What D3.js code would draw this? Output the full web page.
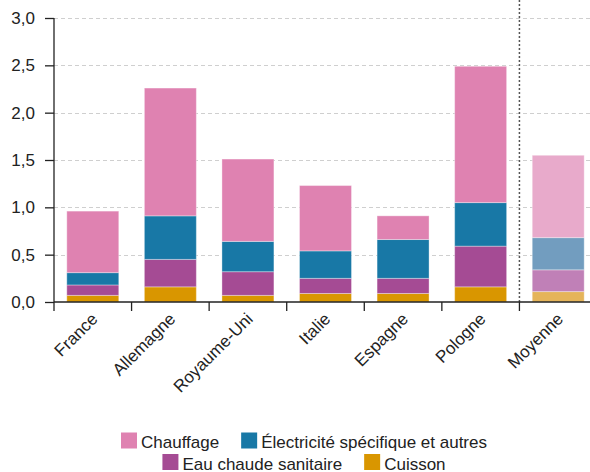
<!DOCTYPE html>
<html>
<head>
<meta charset="utf-8">
<script src="https://cdn.jsdelivr.net/npm/d3@7"></script>
<style>
  body { margin: 0; background: #fff; }
  svg { display: block; font-family: "Liberation Sans", Arial, sans-serif; }
</style>
</head>
<body>
<div id="chart"></div>
<script>
// data
const categories = ["France", "Allemagne", "Royaume-Uni", "Italie", "Espagne", "Pologne", "Moyenne"];
const cuisson    = [0.07, 0.16, 0.07, 0.09, 0.09, 0.16, 0.11];
const eauChaude  = [0.11, 0.29, 0.25, 0.16, 0.16, 0.43, 0.23];
const electricite = [0.13, 0.46, 0.32, 0.29, 0.41, 0.46, 0.34];
const chauffage  = [0.65, 1.35, 0.87, 0.69, 0.25, 1.44, 0.87];
const yTicks = [0, 0.5, 1, 1.5, 2, 2.5, 3];

const seriesKeys = ["cuisson", "eau", "elec", "chauffage"];
const colors = {cuisson: "#d99600", eau: "#a54b94", elec: "#1878a6", chauffage: "#df82b1"};
const lightColors = {cuisson: "#e5b45a", eau: "#c080b7", elec: "#729dbf", chauffage: "#e8aacb"};

const rows = categories.map((c, i) => ({
    name: c,
    cuisson: cuisson[i],
    eau: eauChaude[i],
    elec: electricite[i],
    chauffage: chauffage[i]
}));

const width = 590;
const height = 472;
const marginLeft = 54, plotBottom = 302, plotTop = 18;

const svg = d3.select("#chart")
    .append("svg")
    .attr("width", width)
    .attr("height", height);

const x = d3.scaleBand()
    .domain(categories)
    .range([marginLeft, 597])
    .paddingInner(0.33)
    .paddingOuter(0.165);

const y = d3.scaleLinear()
    .domain([0, 3])
    .range([plotBottom, plotTop]);

const fmt = d => d3.format(".1f")(d).replace(".", ",");

// gridlines
svg.append("g")
    .selectAll("line")
    .data(yTicks.filter(d => d > 0))
    .join("line")
    .attr("x1", marginLeft).attr("x2", width)
    .attr("y1", d => Math.round(y(d)) + 0.5)
    .attr("y2", d => Math.round(y(d)) + 0.5)
    .attr("stroke", "#cfcfcf")
    .attr("stroke-dasharray", "4,3");

// stacked bars
const stack = d3.stack().keys(seriesKeys);
const layers = stack(rows);

svg.append("g")
    .selectAll("g")
    .data(layers)
    .join("g")
    .each(function(layer) {
        d3.select(this).selectAll("rect")
            .data(layer)
            .join("rect")
            .attr("x", d => x(d.data.name))
            .attr("width", x.bandwidth())
            .attr("y", d => y(d[1]))
            .attr("height", d => y(d[0]) - y(d[1]))
            .attr("fill", d => d.data.name === "Moyenne" ? lightColors[layer.key] : colors[layer.key])
            .attr("stroke", "#fff")
            .attr("stroke-opacity", 0.35)
            .attr("stroke-width", 1);
    });

// divider before the average
const step = x.step();
const divX = x("Moyenne") - step * x.paddingInner() / 2;
svg.append("line")
    .attr("x1", divX).attr("x2", divX)
    .attr("y1", 0).attr("y2", plotBottom)
    .attr("stroke", "#555")
    .attr("stroke-width", 1.5)
    .attr("stroke-dasharray", "2,2");

// y axis
const yAxis = svg.append("g")
    .attr("transform", `translate(${marginLeft},0)`)
    .call(d3.axisLeft(y).tickValues(yTicks).tickFormat(fmt).tickSize(9).tickPadding(10));
yAxis.select(".domain").attr("stroke", "#222").attr("stroke-width", 1.3).attr("d", `M0,${plotTop}V${plotBottom}`);
yAxis.selectAll(".tick line").attr("stroke", "#222").attr("stroke-width", 1.3);
yAxis.selectAll("text")
    .attr("font-size", 17)
    .attr("fill", "#222")
    .attr("font-family", "Liberation Sans, Arial, sans-serif");

// x axis baseline and ticks at band boundaries
svg.append("line")
    .attr("x1", marginLeft).attr("x2", width)
    .attr("y1", plotBottom).attr("y2", plotBottom)
    .attr("stroke", "#222").attr("stroke-width", 1.3);

svg.append("g")
    .selectAll("line")
    .data(categories)
    .join("line")
    .attr("x1", d => x(d) - step * x.paddingInner() / 2)
    .attr("x2", d => x(d) - step * x.paddingInner() / 2)
    .attr("y1", plotBottom).attr("y2", plotBottom + 9)
    .attr("stroke", "#222").attr("stroke-width", 1.3);

// x labels
svg.append("g")
    .selectAll("text")
    .data(categories)
    .join("text")
    .attr("transform", d => `translate(${x(d) + x.bandwidth() / 2 + 6},${plotBottom + 18}) rotate(-45)`)
    .attr("text-anchor", "end")
    .attr("font-size", 17)
    .attr("fill", "#222")
    .text(d => d);

// legend, two centered rows
const legendRows = [
    [{key: "chauffage", label: "Chauffage"}, {key: "elec", label: "Électricité spécifique et autres"}],
    [{key: "eau", label: "Eau chaude sanitaire"}, {key: "cuisson", label: "Cuisson"}]
];
const sw = 16, gapText = 4, gapItem = 22;
const legendCenter = 304;

legendRows.forEach((items, r) => {
    const g = svg.append("g");
    const baseY = 448 + r * 21.5;
    let cx = 0;
    items.forEach(it => {
        g.append("rect")
            .attr("x", cx).attr("y", baseY - 15.5)
            .attr("width", sw).attr("height", sw)
            .attr("fill", colors[it.key]);
        const t = g.append("text")
            .attr("x", cx + sw + gapText)
            .attr("y", baseY)
            .attr("font-size", 17)
            .attr("fill", "#222")
            .text(it.label);
        cx += sw + gapText + t.node().getComputedTextLength() + gapItem;
    });
    const total = cx - gapItem;
    g.attr("transform", `translate(${legendCenter - total / 2},0)`);
});
</script>
</body>
</html>
